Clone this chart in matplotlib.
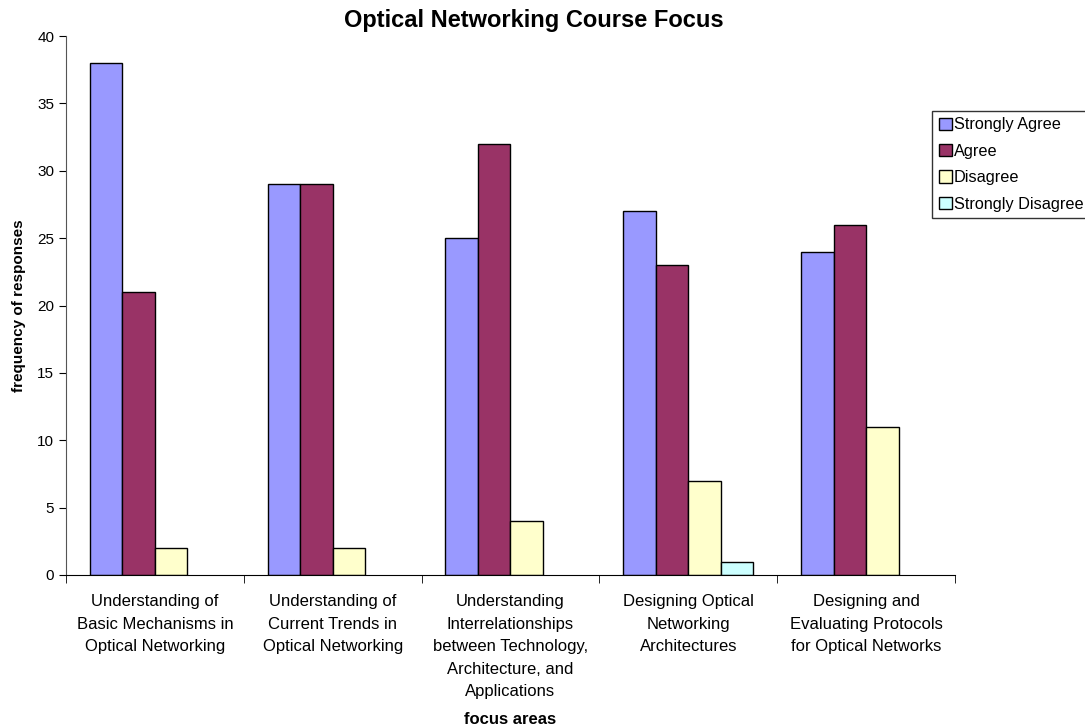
import numpy as np
import matplotlib.pyplot as plt

plt.switch_backend('agg')
plt.rcParams['font.family'] = ['Liberation Sans', 'DejaVu Sans']

categories = [
    "Understanding of\nBasic Mechanisms in\nOptical Networking",
    "Understanding of\nCurrent Trends in\nOptical Networking",
    "Understanding\nInterrelationships\nbetween Technology,\nArchitecture, and\nApplications",
    "Designing Optical\nNetworking\nArchitectures",
    "Designing and\nEvaluating Protocols\nfor Optical Networks",
]
series_names = ["Strongly Agree", "Agree", "Disagree", "Strongly Disagree"]
strongly_agree = [38, 29, 25, 27, 24]
agree = [21, 29, 32, 23, 26]
disagree = [2, 2, 4, 7, 11]
strongly_disagree = [0, 0, 0, 1, 0]
colors = ["#9999FF", "#993366", "#FFFFCC", "#CCFFFF"]

fig = plt.figure(figsize=(10.85, 7.28), dpi=100)
ax = fig.add_axes([0.0608, 0.2102, 0.8194, 0.7403])

x = np.arange(len(categories))
w = 0.183
all_series = [strongly_agree, agree, disagree, strongly_disagree]
for k, (vals, name, c) in enumerate(zip(all_series, series_names, colors)):
    vals = np.array(vals, dtype=float)
    # zero-height bars in Excel draw nothing
    h = np.where(vals > 0, vals, np.nan)
    ax.bar(x + (k - 1.5) * w, h, width=w, color=c, edgecolor='black',
           linewidth=1.0, label=name)

ax.set_xlim(-0.5, len(categories) - 0.5)
ax.set_ylim(0, 40)
ax.set_yticks(range(0, 41, 5))
ax.set_xticks(x)
ax.set_xticklabels(categories, fontsize=12, linespacing=1.62)
ax.set_xticks(np.arange(-0.5, len(categories), 1), minor=True)
ax.tick_params(axis='x', which='major', length=0, pad=14)
ax.tick_params(axis='x', which='minor', length=6, direction='out', color='black')
ax.tick_params(axis='y', length=5, direction='out', labelsize=11, color='black')

for s in ['top', 'right']:
    ax.spines[s].set_visible(False)
ax.spines['left'].set_color('#555555')
ax.spines['bottom'].set_color('black')

fig.text(534 / 1085, 1 - 21 / 728, "Optical Networking Course Focus",
         ha='center', va='center', fontsize=17, fontweight='bold')
ax.set_ylabel("frequency of responses", fontsize=11, fontweight='bold', labelpad=8)
fig.text(510 / 1085, 9 / 728, "focus areas", ha='center', va='center',
         fontsize=12, fontweight='bold')

leg = fig.legend(loc='upper left', bbox_to_anchor=(932 / 1085, 1 - 111 / 728),
                 fontsize=11.7, frameon=True, fancybox=False,
                 handlelength=0.8, handleheight=0.8, handletextpad=0.15,
                 borderpad=0.4, labelspacing=0.7, borderaxespad=0)
leg.get_frame().set_edgecolor('black')
leg.get_frame().set_linewidth(1.0)

fig.savefig('out.png', dpi=100)
